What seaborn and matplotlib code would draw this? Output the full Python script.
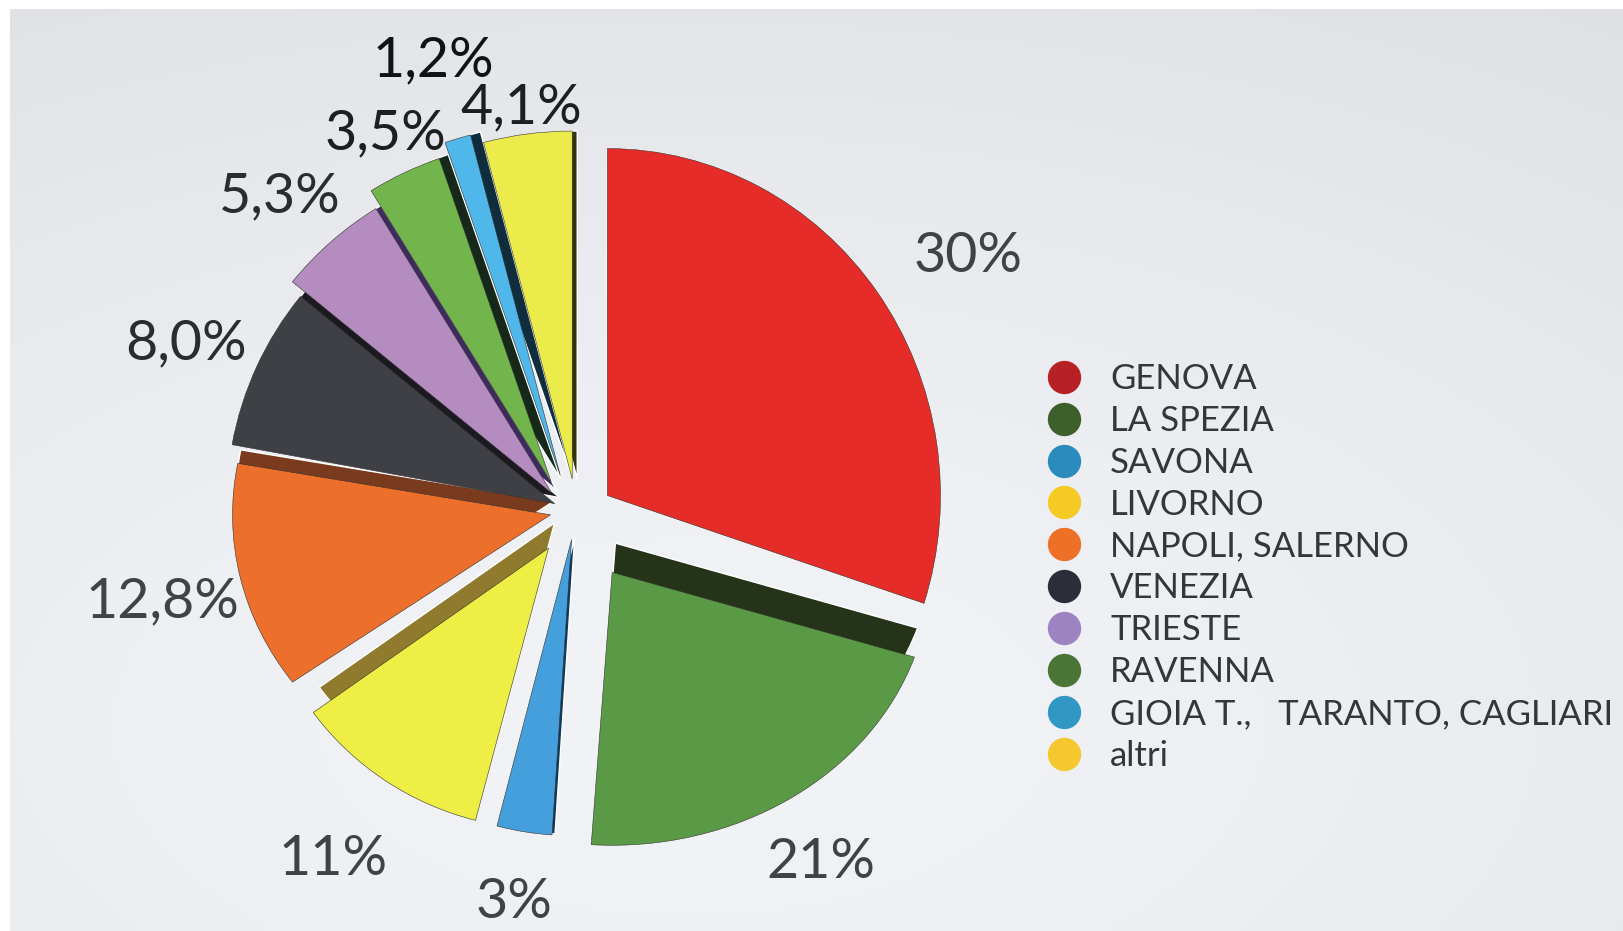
import numpy as np
import seaborn as sns
import matplotlib.pyplot as plt
from matplotlib.lines import Line2D
from matplotlib.transforms import Affine2D

# Values
ports = ["GENOVA", "LA SPEZIA", "SAVONA", "LIVORNO", "NAPOLI, SALERNO", "VENEZIA",
         "TRIESTE", "RAVENNA", "GIOIA T.,   TARANTO, CAGLIARI", "altri"]
shares = [30, 21, 3, 11, 12.8, 8.0, 5.3, 3.5, 1.2, 4.1]
share_labels = ["30%", "21%", "3%", "11%", "12,8%", "8,0%", "5,3%", "3,5%", "1,2%", "4,1%"]

# Colours
top_colors = ["#e52c28", "#5a9a46", "#459fdc", "#eeee44", "#ec702c",
              "#3e4045", "#b58cc0", "#72b54c", "#4fb7e9", "#ebeb4c"]
side_colors = ["#8a1c1a", "#253419", "#0e3a5c", "#8f7a2d", "#7a3a1e",
               "#1b1a21", "#3f2a60", "#16281a", "#0f2d3c", "#34340f"]
legend_colors = ["#b72025", "#3d5f2c", "#2a8cbd", "#f6ca25", "#ee7027",
                 "#2b2d39", "#9d83c1", "#4a7537", "#3198c6", "#f5c82f"]

# Layout, all in pixels of the 1624x931 picture
W, H = 1624, 931
pie_center = (575, H - 505)
explode = [40, 45, 34, 45, 22, 8, 6, 6, 6, 6]
radii = [347, 300, 296, 290, 318, 328, 335, 343, 352, 348]
nudges = [(0, -14), (12, -30), (2, -1), (-1, -6), (-3, -5), (-13, -2), (-19, 7), (-21, 17), (-13, 24), (-2, 20)]
# the slices are not quite round in the original, it has some perspective
stretch = [(0.96, 1.0), (1.06, 0.91), (1, 1), (1, 0.97), (1, 0.9), (1, 1), (1, 1), (1, 1), (1, 1), (1, 1)]
# how far the dark side face sticks out behind each slice
side_offsets = [(0, 0), (3, 32), (3, 1), (6, 26), (3, 15), (5, 6), (5, 3), (9, 4), (10, 3), (5, 0)]
label_xy = [(968, 272), (821, 878), (514, 918), (333, 875), (162, 617),
            (186, 359), (280, 212), (385, 149), (433, 76), (521, 123)]
label_colors = ["#3f4247", "#3f4247", "#3f4247", "#3f4247", "#3f4247",
                "#2a2c30", "#2a2c30", "#1d1e20", "#111214", "#1d1e20"]

sns.set_theme(style="white")
plt.rcParams["font.family"] = ["Lato", "DejaVu Sans"]

fig = plt.figure(figsize=(W / 100, H / 100), dpi=100)
ax = fig.add_axes([0, 0, 1, 1])

# soft grey backdrop, starts a few pixels in from the left and top
yy, xx = np.mgrid[0:1:200j, 0:1:350j]
dist = np.sqrt(((xx - 0.42) / 1.0) ** 2 + ((yy - 0.78) / 0.9) ** 2)
shade = 0.955 - 0.07 * dist ** 1.4
backdrop = np.clip(np.dstack([shade - 0.008, shade - 0.001, shade + 0.012]), 0, 1)
ax.imshow(backdrop, extent=(10, W, 0, H - 9), aspect="auto", zorder=0, interpolation="bilinear")

side, _ = ax.pie(shares, colors=side_colors, startangle=90, counterclock=False,
                 center=pie_center, radius=1, explode=explode, frame=True)
top, _ = ax.pie(shares, colors=top_colors, startangle=90, counterclock=False,
                center=pie_center, radius=1, explode=explode, frame=True,
                wedgeprops={"edgecolor": "#33332e", "linewidth": 0.4})

ax.set_xlim(0, W)
ax.set_ylim(0, H)

for i in range(len(shares)):
    cx, cy = top[i].center
    cx, cy = cx + nudges[i][0], cy + nudges[i][1]
    top[i].set_center((cx, cy))
    top[i].set_radius(radii[i])
    side[i].set_center((cx + side_offsets[i][0], cy + side_offsets[i][1]))
    side[i].set_radius(radii[i])
    squash = Affine2D().translate(-cx, -cy).scale(*stretch[i]).translate(cx, cy)
    top[i].set_transform(squash + ax.transData)
    side[i].set_transform(squash + ax.transData)

for text, (x, y), color in zip(share_labels, label_xy, label_colors):
    ax.text(x, H - y, text, ha="center", va="baseline", fontsize=40, color=color)

ax.axis("off")

handles = [Line2D([], [], linestyle="", marker="o", markersize=24, color=c, markeredgewidth=0)
           for c in legend_colors]
ax.legend(handles, ports, loc="center left", bbox_to_anchor=(1033 / W, 1 - 567.5 / H),
          frameon=False, fontsize=25, labelcolor="#33363b", labelspacing=0.286,
          handlelength=1.8, handletextpad=0.42, borderpad=0, borderaxespad=0)

fig.savefig("out.png", dpi=100)
plt.close(fig)
